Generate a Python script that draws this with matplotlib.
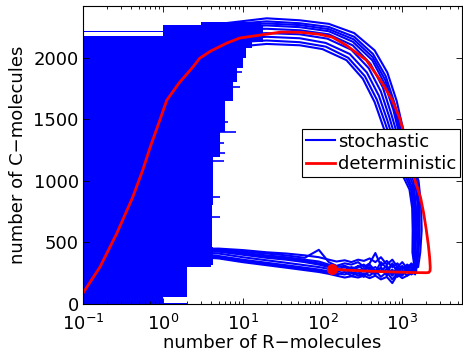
import numpy as np
import matplotlib
matplotlib.use("Agg")
import matplotlib.pyplot as plt

plt.rcParams['font.family'] = ['DejaVu Sans']
plt.rcParams['font.size'] = 13

# deterministic trajectory (R, C), starting at the dot
det_R = [133, 200, 400, 700, 1000, 1500, 2000, 2150, 2230, 2240, 2200, 2120, 2000, 1850, 1700,
         1450, 1200, 1000, 917, 750, 562, 355, 200, 133, 92, 52, 30, 16.3, 9.2, 6.3, 4, 2.9, 2.37,
         1.6, 1.12, 0.917, 0.7, 0.56, 0.42, 0.266, 0.163, 0.1, 0.08]
det_C = [284, 275, 266, 261, 258, 255, 254, 256, 270, 300, 380, 480, 600, 740, 860,
         1000, 1200, 1436, 1518, 1655, 1793, 1980, 2100, 2167, 2190, 2207, 2208, 2183, 2160, 2118, 2055, 1996, 1923,
         1795, 1655, 1493, 1280, 1087, 868, 576, 300, 89, 40]

# left block of the stochastic run (R hits 0, 1, 2, ...): C bands with R extent
mass_C = [0, 5, 57, 136, 141, 249, 254, 300, 320, 460, 800, 1190, 1400, 1650, 1800, 1920, 2000,
          2080, 2130, 2150, 2175, 2205, 2215, 2264, 2288]
mass_lo = [0.01, 0.01, 0.01, 0.01, 0.01, 0.01, 0.01, 0.01, 0.01, 0.01, 0.01, 0.01, 0.01, 0.01, 0.01,
           0.01, 0.01, 0.01, 0.01, 0.01, 1.0, 0.01, 1.0, 3.0, 3.0]
mass_hi = [2.0, 1.0, 2.0, 1.0, 2.0, 1.0, 2.0, 4.0, 4.2, 4.1, 4.3, 5.2, 6.0, 7.5, 8.5, 10, 11,
           13, 18, 18, 18, 18, 18, 17, 17]

strip_C = [706, 868, 1158, 1225, 1306, 1396, 1480, 1655, 1761, 1880]
strip_R = [5.2, 5.2, 5.9, 6.0, 5.9, 8.2, 6.5, 7.3, 9.2, 9.8]

# stochastic cycles: upper arc (R, C)
arc1_R = [6, 20, 52, 120, 250, 450, 650, 850, 1000, 1250, 1600, 1720, 1750, 1680, 1580]
arc1_C = [2280, 2320, 2304, 2275, 2200, 2060, 1880, 1650, 1450, 1200, 1000, 800, 600, 420, 300]
arc2_R = [6, 20, 52, 120, 250, 430, 620, 800, 950, 1180, 1520, 1630, 1650, 1600, 1500]
arc2_C = [2270, 2295, 2280, 2250, 2170, 2030, 1850, 1630, 1430, 1200, 1000, 800, 600, 420, 290]
arc3_R = [6, 20, 52, 120, 240, 420, 600, 770, 900, 1120, 1450, 1560, 1580, 1530, 1450]
arc3_C = [2250, 2262, 2248, 2215, 2130, 1980, 1790, 1580, 1400, 1200, 1000, 800, 600, 420, 280]
arc4_R = [6, 20, 52, 120, 240, 400, 570, 730, 870, 1080, 1380, 1480, 1500, 1460, 1420]
arc4_C = [2230, 2235, 2223, 2190, 2100, 1950, 1760, 1540, 1370, 1180, 1000, 800, 600, 420, 300]
arc5_R = [6, 20, 52, 110, 220, 360, 510, 650, 800, 1030, 1320, 1420, 1440, 1420, 1480]
arc5_C = [2150, 2170, 2158, 2120, 2030, 1880, 1690, 1490, 1300, 1120, 950, 780, 600, 420, 310]
arc6_R = [6, 20, 52, 110, 210, 340, 480, 610, 760, 990, 1280, 1380, 1400, 1390, 1500]
arc6_C = [2120, 2140, 2126, 2090, 2000, 1850, 1660, 1470, 1280, 1100, 940, 780, 600, 420, 270]
arc7_R = [6, 20, 52, 100, 200, 320, 450, 570, 720, 950, 1230, 1330, 1350, 1340, 1450]
arc7_C = [2080, 2112, 2101, 2070, 1980, 1830, 1640, 1450, 1260, 1080, 930, 780, 600, 420, 260]
arc8_R = [6, 20, 52, 115, 230, 380, 540, 690, 830, 1050, 1350, 1450, 1470, 1440, 1460]
arc8_C = [2180, 2200, 2190, 2155, 2065, 1915, 1725, 1515, 1335, 1150, 975, 790, 600, 420, 290]
arc9_R = [6, 20, 52, 120, 245, 425, 610, 785, 925, 1150, 1480, 1590, 1610, 1560, 1520]
arc9_C = [2260, 2278, 2265, 2232, 2150, 2005, 1820, 1605, 1415, 1200, 1000, 800, 600, 420, 310]

# stochastic cycles: noisy lower branch, C at shared R values
bottom_R = [1450, 1300, 1150, 1000, 870, 750, 640, 540, 460, 390, 330, 280, 230, 190, 150, 120,
            90, 60, 35, 20, 10, 5, 3]
bottom1_C = [300, 330, 290, 340, 300, 360, 320, 380, 340, 370, 350, 360, 340, 355, 345, 360, 380, 395, 410, 420, 438, 450, 448]
bottom2_C = [270, 300, 320, 280, 330, 300, 350, 310, 414, 330, 300, 340, 320, 330, 310, 340, 440, 375, 395, 410, 425, 445, 440]
bottom3_C = [250, 280, 260, 310, 270, 320, 280, 260, 300, 280, 320, 300, 290, 310, 300, 320, 345, 360, 380, 395, 415, 435, 430]
bottom4_C = [310, 260, 290, 250, 300, 240, 310, 270, 250, 300, 270, 280, 300, 270, 285, 300, 320, 340, 360, 375, 400, 425, 420]
bottom5_C = [280, 250, 230, 270, 220, 280, 230, 300, 240, 260, 240, 265, 250, 280, 260, 285, 300, 315, 335, 355, 380, 410, 405]
bottom6_C = [260, 240, 280, 230, 250, 200, 260, 220, 270, 230, 250, 230, 260, 240, 250, 265, 280, 295, 315, 335, 360, 390, 390]
bottom7_C = [240, 270, 230, 210, 240, 170, 220, 200, 230, 210, 230, 215, 225, 215, 230, 245, 260, 275, 295, 315, 340, 370, 380]
bottom8_C = [290, 320, 270, 300, 260, 330, 250, 290, 270, 320, 280, 310, 275, 300, 280, 310, 330, 350, 370, 385, 410, 430, 425]
bottom9_C = [260, 290, 310, 240, 280, 230, 290, 340, 260, 290, 220, 250, 230, 260, 240, 255, 270, 285, 305, 325, 350, 380, 385]

# return through the left block
back_R = [2, 1, 1.5]
back_C = [400, 1000, 2000]

arcs = [(arc1_R, arc1_C), (arc2_R, arc2_C), (arc3_R, arc3_C), (arc4_R, arc4_C),
        (arc5_R, arc5_C), (arc6_R, arc6_C), (arc7_R, arc7_C), (arc8_R, arc8_C),
        (arc9_R, arc9_C)]
bottoms = [bottom1_C, bottom2_C, bottom3_C, bottom4_C, bottom5_C, bottom6_C, bottom7_C,
           bottom8_C, bottom9_C]

blue = (0, 0, 1)
red = (1, 0, 0)

fig = plt.figure(figsize=(4.63, 3.57), dpi=100)
ax = fig.add_axes([83 / 463, 1 - 304 / 357, 379 / 463, 298 / 357])
ax.set_xscale('log')

ax.fill_betweenx(mass_C, mass_lo, mass_hi, step='post', color=blue, lw=0)
ax.hlines(strip_C, 3, strip_R, color=blue, lw=1.2)

for k, ((aR, aC), bC) in enumerate(zip(arcs, bottoms)):
    R = list(aR) + bottom_R + back_R
    C = list(aC) + bC + back_C
    ax.plot(R, C, color=blue, lw=1.5, label='stochastic' if k == 0 else None)

ax.plot(det_R, det_C, color=red, lw=2, label='deterministic')
ax.plot(det_R[0], det_C[0], 'o', color=red, ms=7)

ax.set_xlim(0.1, 5600)
ax.set_ylim(0, 2420)
ax.set_yticks([0, 500, 1000, 1500, 2000])
ax.tick_params(which='both', direction='in', top=True, right=True, width=0.6)
ax.tick_params(which='major', length=4)
ax.tick_params(which='minor', length=2)
ax.tick_params(axis='x', which='major', pad=7)
ax.tick_params(axis='y', which='major', pad=3)
for s in ax.spines.values():
    s.set_linewidth(0.8)

ax.set_xlabel('number of R\u2212molecules', labelpad=0)
ax.set_ylabel('number of C\u2212molecules', labelpad=5)

leg = ax.legend(loc='upper right', bbox_to_anchor=(0.995, 0.587), fancybox=False,
                edgecolor='black', framealpha=1, borderpad=0.2, labelspacing=0.25,
                handlelength=1.6, handletextpad=0.2, borderaxespad=0)
leg.get_frame().set_linewidth(0.8)

fig.savefig('out.png', dpi=100)
